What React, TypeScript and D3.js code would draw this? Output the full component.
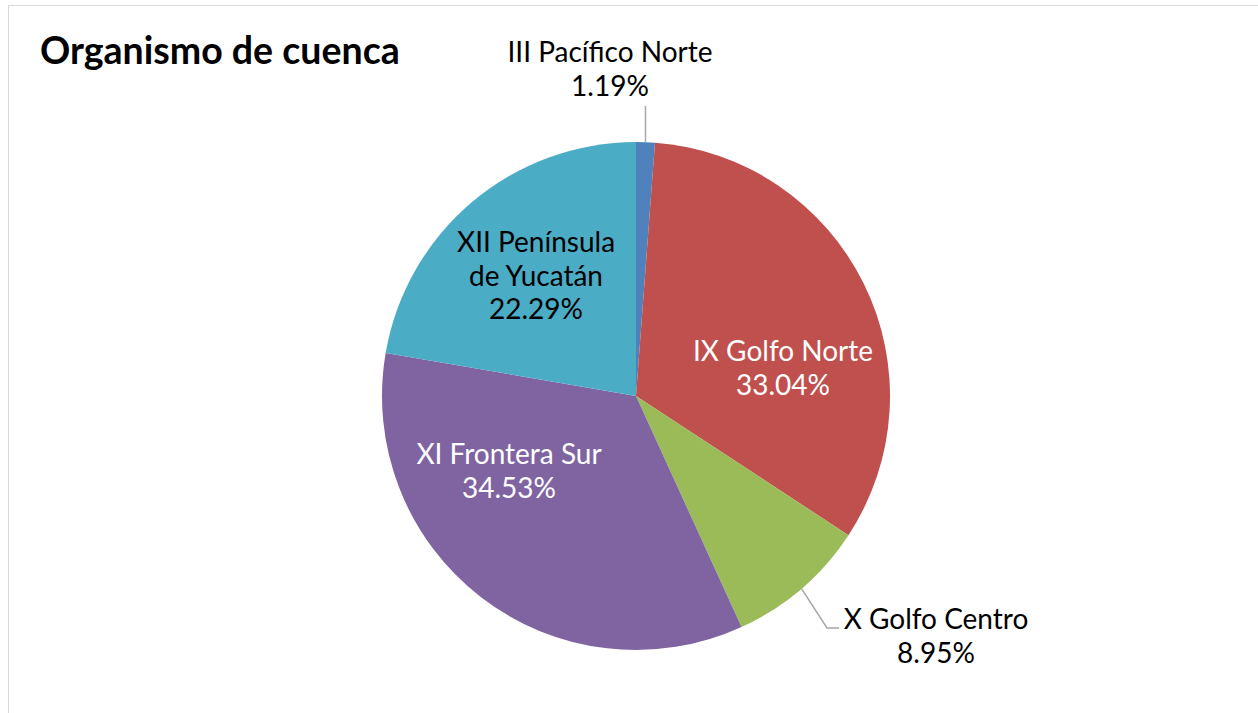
import React from 'react';
import * as d3 from 'd3';

const regions = ['III Pacífico Norte', 'IX Golfo Norte', 'X Golfo Centro', 'XI Frontera Sur', 'XII Península de Yucatán'];
const shares = [1.19, 33.04, 8.95, 34.53, 22.29];
const colors = ['#4F81BD', '#C0504D', '#9BBB59', '#8064A2', '#4BACC6'];

// label lines (name split as in the original) and where each block sits
const labelLines = [
  ['III Pacífico Norte'],
  ['IX Golfo Norte'],
  ['X Golfo Centro'],
  ['XI Frontera Sur'],
  ['XII Península', 'de Yucatán'],
];
const labelColors = ['#000', '#fff', '#000', '#fff', '#000'];

const width = 1258;
const height = 713;
const cx = 636;
const cy = 396;
const radius = 254;
const fontFamily = 'Lato, "Open Sans", sans-serif';
const lineH = 33.5;

export default function App() {
  const pie = d3.pie<number>().sort(null).value(d => d);
  const arcs = pie(shares);
  const arc = d3.arc<d3.PieArcDatum<number>>().innerRadius(0).outerRadius(radius);
  const fmt = (v: number) => v.toFixed(2) + '%';

  const mid = (a: d3.PieArcDatum<number>) => (a.startAngle + a.endAngle) / 2;
  const polar = (ang: number, r: number) => [Math.sin(ang) * r, -Math.cos(ang) * r];

  const labelPos = [
    { dx: -26, top: -334 },
    { dx: 147, top: -35 },
    { dx: 300, top: 233 },
    { dx: -127, top: 68 },
    { dx: -100, top: -144 },
  ];

  // leader lines for the outside labels
  const pacEdge = polar(mid(arcs[0]), radius);
  const cenEdge = polar(mid(arcs[2]), radius);

  return (
    <div style={{ position: 'absolute', left: 0, top: 0 }}>
      <svg width={width} height={height} style={{ display: 'block' }}>
        <rect x={0} y={0} width={width} height={height} fill="#fff" />
        <rect x={8.5} y={5.5} width={width + 10} height={height + 10} fill="none" stroke="#D9D9D9" strokeWidth={1} />
        <text x={40} y={64} fontFamily={fontFamily} fontWeight={700} fontSize={37.5} fill="#000">
          Organismo de cuenca
        </text>
        <g transform={`translate(${cx},${cy})`}>
          {arcs.map((a, i) => (
            <path key={regions[i]} d={arc(a) || ''} fill={colors[i]} />
          ))}
          <polyline
            points={`${pacEdge[0]},${pacEdge[1]} ${pacEdge[0]},${-290}`}
            fill="none"
            stroke="#A6A6A6"
            strokeWidth={1.5}
          />
          <polyline
            points={`${cenEdge[0]},${cenEdge[1]} ${191},${232} ${203},${232}`}
            fill="none"
            stroke="#A6A6A6"
            strokeWidth={1.5}
          />
          {arcs.map((a, i) => {
            const p = labelPos[i];
            const lines = [...labelLines[i], fmt(shares[i])];
            return (
              <text
                key={'l' + i}
                fontFamily={fontFamily}
                fontSize={28}
                fill={labelColors[i]}
                textAnchor="middle"
              >
                {lines.map((t, j) => (
                  <tspan key={j} x={p.dx} y={p.top + j * lineH}>
                    {t}
                  </tspan>
                ))}
              </text>
            );
          })}
        </g>
      </svg>
    </div>
  );
}
